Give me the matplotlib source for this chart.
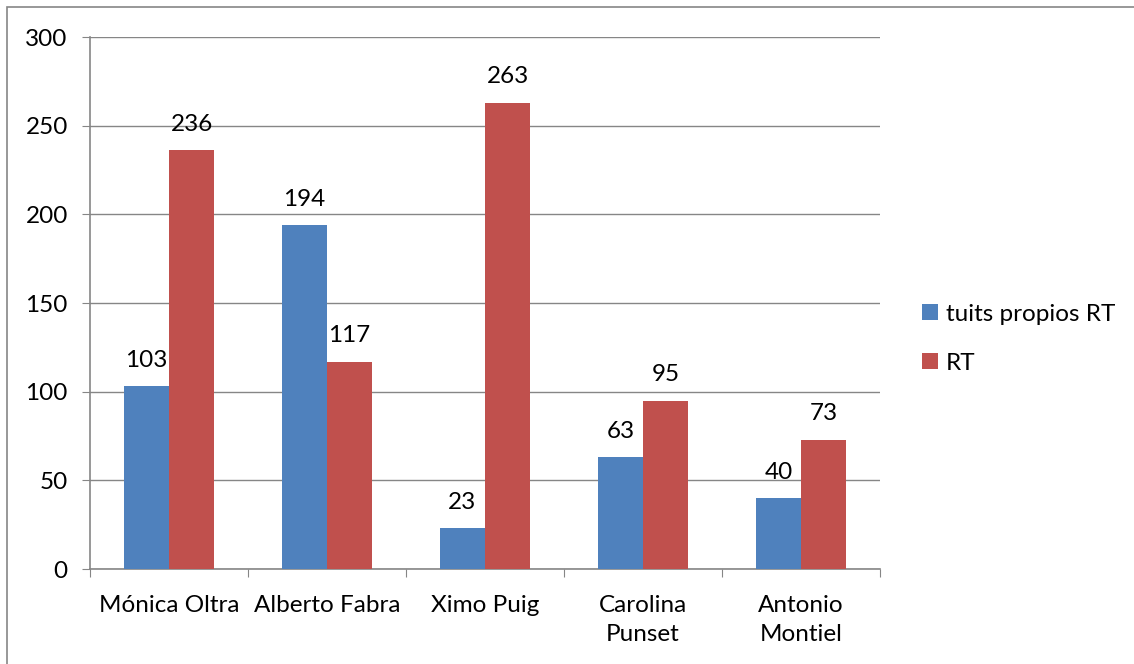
import matplotlib
matplotlib.use("Agg")
import matplotlib.pyplot as plt
import numpy as np
from matplotlib.patches import Rectangle

categories = ["Mónica Oltra", "Alberto Fabra", "Ximo Puig", "Carolina\nPunset", "Antonio\nMontiel"]
propios = [103, 194, 23, 63, 40]
rt = [236, 117, 263, 95, 73]
series_names = ["tuits propios RT", "RT"]
yticks = [0, 50, 100, 150, 200, 250, 300]

plt.rcParams['font.family'] = ['Lato', 'DejaVu Sans']
FS = 17.5

fig = plt.figure(figsize=(11.34, 6.64), dpi=100)
ax = fig.add_axes([90/1134, 1-569/664, (880-90)/1134, (569-37)/664])

blue = "#4F81BD"
red = "#C0504D"
grid = "#868686"

x = np.arange(len(categories))
w = 0.285
b1 = ax.bar(x - w/2, propios, w, color=blue, label=series_names[0], zorder=3)
b2 = ax.bar(x + w/2, rt, w, color=red, label=series_names[1], zorder=3)

for bars, vals in ((b1, propios), (b2, rt)):
    for rect, v in zip(bars, vals):
        ax.annotate(str(v), (rect.get_x() + rect.get_width()/2, v),
                    xytext=(0, 11), textcoords="offset points",
                    ha="center", va="bottom", fontsize=FS, color="black")

ax.set_xlim(-0.5, len(categories) - 0.5)
ax.set_ylim(0, 300)
ax.set_yticks(yticks)
ax.set_yticklabels([str(t) for t in yticks], fontsize=FS)
ax.yaxis.grid(True, color=grid, linewidth=1.0, zorder=0)
ax.set_axisbelow(True)

ax.set_xticks(np.arange(len(categories) + 1) - 0.5)
ax.set_xticklabels([])
ax.set_xticks(x, minor=True)
ax.set_xticklabels(categories, minor=True, fontsize=FS, linespacing=1.45)
ax.tick_params(axis="x", which="minor", length=0, pad=19)
ax.tick_params(axis="x", which="major", length=6, color=grid, direction="out")
ax.tick_params(axis="y", length=6, color=grid, pad=10)

for s in ["top", "right"]:
    ax.spines[s].set_visible(False)
for s in ["left", "bottom"]:
    ax.spines[s].set_color(grid)
    ax.spines[s].set_linewidth(1.2)

leg = fig.legend(handles=[b1, b2], labels=series_names, loc="upper left",
                 bbox_to_anchor=(900/1134, 1-282/664), frameon=False,
                 fontsize=FS, handlelength=0.65, handleheight=0.65,
                 handletextpad=0.35, labelspacing=1.15)

fig.patches.append(Rectangle((7/1134, -0.1), 1.2, 1-7/664+0.1, transform=fig.transFigure,
                             fill=False, edgecolor=grid, linewidth=1.2))

fig.savefig("out.png", dpi=100)
